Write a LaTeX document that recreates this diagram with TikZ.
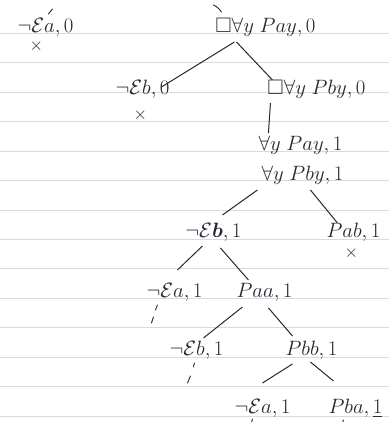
\documentclass[tikz,border=0pt]{standalone}
\usepackage{amsmath,amssymb}
\definecolor{rulecol}{RGB}{214,216,236}
\definecolor{pen}{RGB}{40,40,45}
\begin{document}
\begin{tikzpicture}[x=1pt,y=-1pt,
  lab/.style={inner sep=0pt,text=pen,font=\fontsize{21}{24}\selectfont},
  cross/.style={inner sep=0pt,text=pen,font=\fontsize{16}{18}\selectfont},
  edge/.style={line width=1pt,draw=pen},
  tick/.style={line width=0.9pt,draw=pen,line cap=round},
  ruling/.style={draw=rulecol,line width=0.9pt}]
\fill[white] (0,0) rectangle (389,422);
\foreach \k in {0,...,13} \draw[ruling] (0,{33.3+29.45*\k}) -- (389,{33.3+29.45*\k});
\useasboundingbox (0,0) rectangle (389,422);

% nodes
\node[lab] (ea0) at (45,27) {$\neg\mathcal{E}a,0$};
\node[cross] (x0) at (36,46) {$\times$};
\node[lab] (root) at (265,27) {$\square\forall y\;Pay,0$};
\node[lab] (eb0) at (142,89) {$\neg\mathcal{E}b,0$};
\node[cross] (x1) at (140,115) {$\times$};
\node[lab] (pby0) at (316,89) {$\square\forall y\;Pby,0$};
\node[lab] (pay1) at (300,145) {$\forall y\;Pay,1$};
\node[lab] (pby1) at (302,175) {$\forall y\;Pby,1$};
\node[lab] (eb1) at (213,232) {$\neg\mathcal{E}\boldsymbol{b},1$};
\node[lab] (pab1) at (353,232) {$Pab,1$};
\node[cross] (x2) at (351,253) {$\times$};
\node[lab] (ea1) at (174,292) {$\neg\mathcal{E}a,1$};
\node[lab] (paa1) at (264,292) {$Paa,1$};
\node[lab] (eb1b) at (196,350) {$\neg\mathcal{E}b,1$};
\node[lab] (pbb1) at (311,350) {$Pbb,1$};
\node[lab] (ea1b) at (262,408) {$\neg\mathcal{E}a,1$};
\node[lab] (pba1) at (355,408) {$Pba,\underline{1}$};

% connectors
\draw[edge] ([shift={(-31,15)}]root.center) -- ([shift={(19,-2)}]eb0.center);
\draw[edge] ([shift={(-29,15)}]root.center) -- ([shift={(-44,-9)}]pby0.center);
\draw[edge] ([shift={(-46,14)}]pby0.center) -- ([shift={(-32,-12)}]pay1.center);
\draw[edge] ([shift={(-45,15)}]pby1.center) -- ([shift={(9,-17)}]eb1.center);
\draw[edge] ([shift={(8,15)}]pby1.center) -- ([shift={(-16,-9)}]pab1.center);
\draw[edge] ([shift={(-11,14)}]eb1.center) -- ([shift={(3,-22)}]ea1.center);
\draw[edge] ([shift={(7,16)}]eb1.center) -- ([shift={(-16,-12)}]paa1.center);
\draw[edge] ([shift={(-22,15)}]paa1.center) -- ([shift={(7,-12)}]eb1b.center);
\draw[edge] ([shift={(4,16)}]paa1.center) -- ([shift={(-19,-14)}]pbb1.center);
\draw[edge] ([shift={(-19,14)}]pbb1.center) -- ([shift={(0,-25)}]ea1b.center);
\draw[edge] ([shift={(-1,12)}]pbb1.center) -- ([shift={(-22,-27)}]pba1.center);

% small pen marks
\draw[tick] ([shift={(3,-13)}]ea0.center) -- ([shift={(7,-18)}]ea0.center);
\draw[tick] ([shift={(-52,-22)}]root.center) to[bend left=15] ([shift={(-44,-15)}]root.center);
\draw[tick] ([shift={(-17,13)}]ea1.center) -- ([shift={(-19,18)}]ea1.center);
\draw[tick] ([shift={(-21,25)}]ea1.center) -- ([shift={(-23,31)}]ea1.center);
\draw[tick] ([shift={(-2,13)}]eb1b.center) -- ([shift={(-3,17)}]eb1b.center);
\draw[tick] ([shift={(-6,26)}]eb1b.center) -- ([shift={(-9,33)}]eb1b.center);
\draw[tick] ([shift={(-10,11)}]ea1b.center) -- ([shift={(-11,15)}]ea1b.center);
\draw[tick] ([shift={(-12,12)}]pba1.center) -- ([shift={(-13,15)}]pba1.center);
\end{tikzpicture}
\end{document}
